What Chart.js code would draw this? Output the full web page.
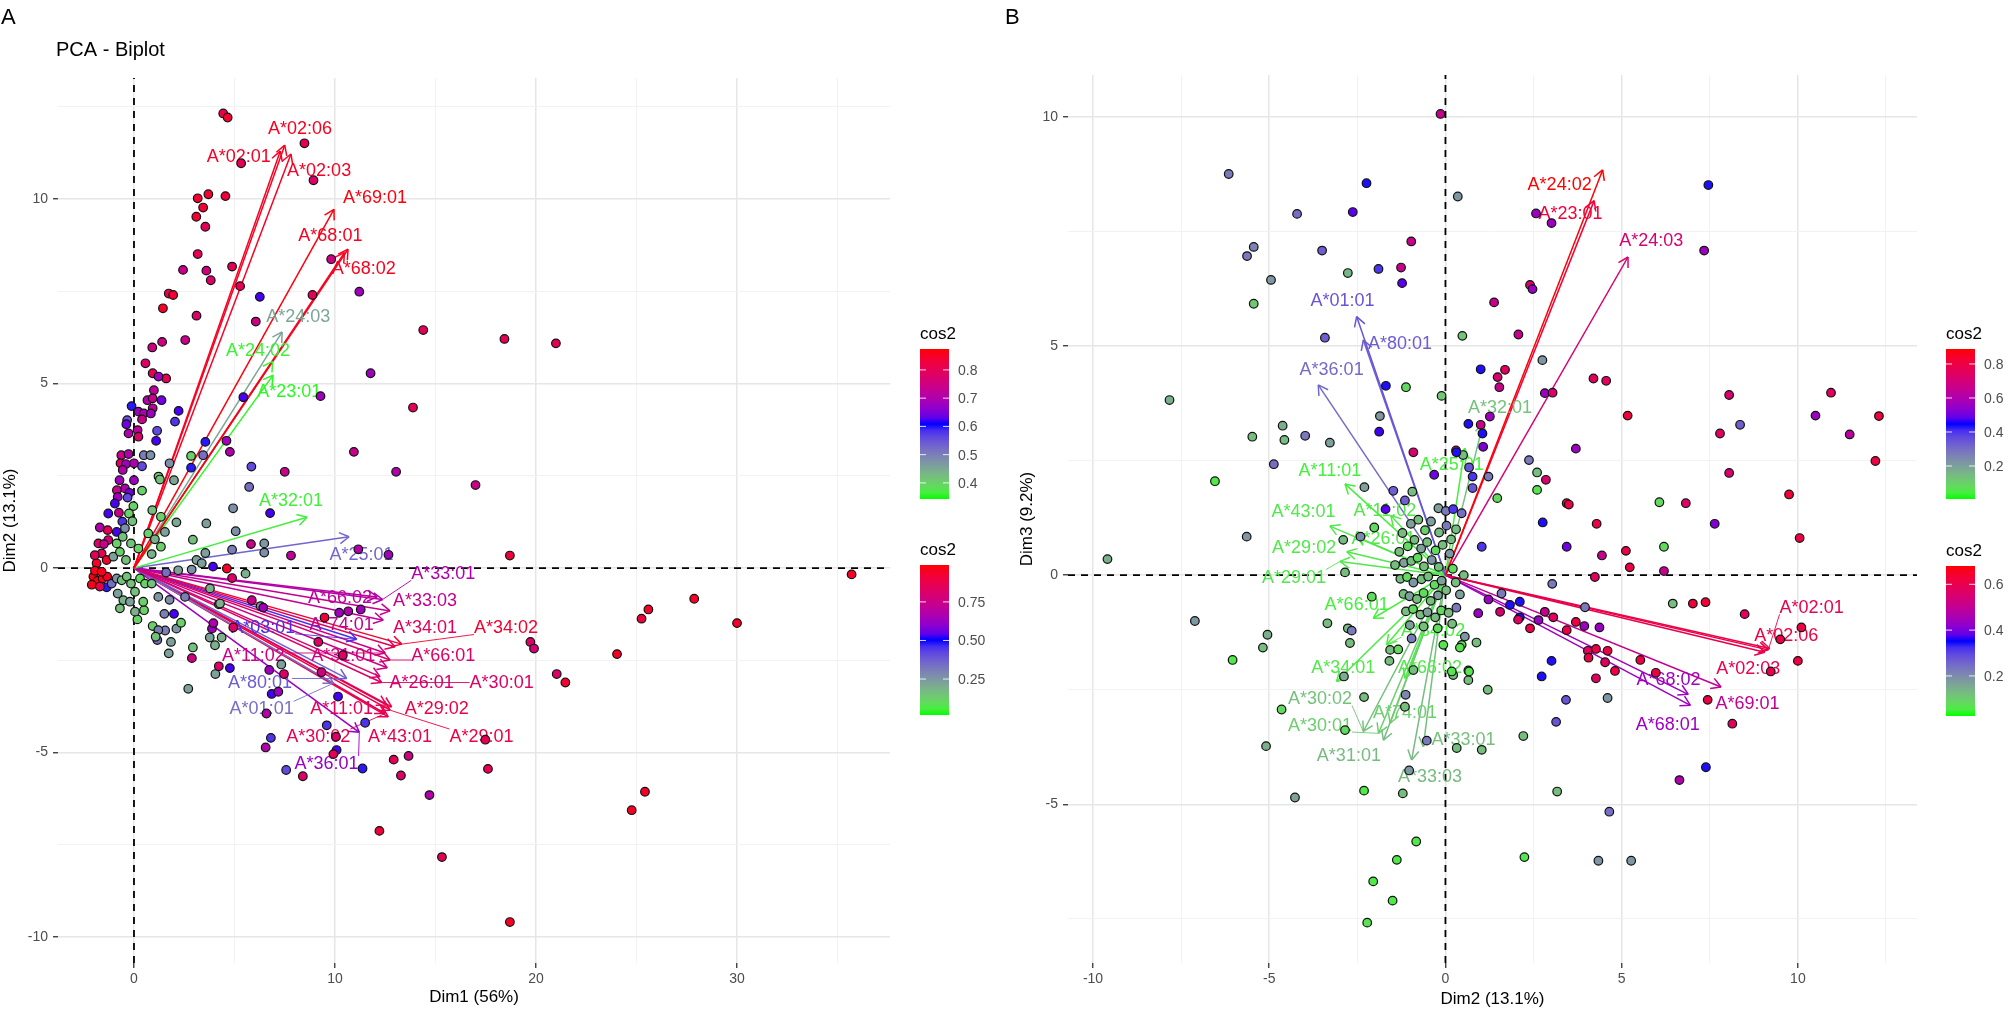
<!DOCTYPE html>
<html>
<head>
<meta charset="utf-8">
<title>PCA - Biplot</title>
<script src="https://cdn.jsdelivr.net/npm/chart.js@4.4.7/dist/chart.umd.min.js"></script>
<style>
  html, body { margin: 0; padding: 0; background: #fff; }
  #wrap { position: relative; width: 2009px; height: 1010px; overflow: hidden; }
  canvas { position: absolute; top: 0; }
  #chartA { left: 0; }
  #chartB { left: 1000px; }
</style>
</head>
<body>
<div id="wrap">
  <canvas id="chartA" width="1000" height="1010"></canvas>
  <canvas id="chartB" width="1009" height="1010"></canvas>
</div>
<script>
// ---- panel A: individuals [Dim1, Dim2, cos2] ----
var indA = [
  [4.44,12.32,0.82],[4.66,12.21,0.84],[8.48,11.51,0.80],[5.33,10.97,0.80],[8.93,10.51,0.78],
  [3.17,10.02,0.84],[3.70,10.13,0.84],[4.55,10.08,0.83],[3.44,9.77,0.84],[3.10,9.52,0.84],
  [3.55,9.25,0.80],[3.17,8.51,0.80],[2.44,8.08,0.74],[3.60,8.06,0.75],[3.82,7.80,0.78],
  [4.88,8.17,0.80],[9.81,8.37,0.75],[5.28,7.64,0.80],[1.73,7.44,0.80],[1.95,7.40,0.84],
  [6.26,7.35,0.62],[8.88,7.40,0.80],[11.21,7.49,0.68],[1.44,7.04,0.85],[3.11,6.84,0.78],
  [6.06,6.68,0.75],[14.39,6.45,0.80],[18.43,6.21,0.80],[20.99,6.09,0.80],[0.91,5.98,0.75],
  [1.40,6.13,0.75],[2.55,6.18,0.74],[0.57,5.55,0.78],[0.93,5.28,0.80],[1.60,5.14,0.80],
  [1.22,5.19,0.68],[0.99,4.82,0.72],[0.67,4.55,0.70],[0.93,4.60,0.74],[1.37,4.55,0.64],
  [-0.12,4.39,0.60],[0.22,4.24,0.68],[0.49,4.19,0.70],[0.93,4.33,0.72],[0.84,4.19,0.68],
  [-0.34,4.01,0.55],[0.40,4.03,0.74],[0.18,3.74,0.72],[-0.38,3.90,0.64],[2.22,4.26,0.62],
  [2.04,3.97,0.58],[1.15,3.72,0.56],[1.10,3.45,0.62],[-0.27,3.65,0.70],[0.22,3.56,0.78],
  [5.44,4.63,0.62],[9.28,4.66,0.68],[11.77,5.28,0.68],[13.88,4.35,0.80],[3.55,3.42,0.60],
  [4.60,3.45,0.68],[4.77,3.15,0.70],[10.94,3.15,0.74],[-0.63,3.06,0.74],[-0.27,3.09,0.70],
  [0.49,3.06,0.50],[0.82,3.06,0.48],[-0.67,2.84,0.78],[-0.40,2.82,0.68],[0.00,2.84,0.70],
  [0.40,2.76,0.56],[1.77,2.84,0.48],[2.84,3.04,0.40],[3.44,3.06,0.52],[2.84,2.72,0.60],
  [1.99,2.38,0.45],[1.22,2.48,0.40],[1.29,2.40,0.42],[5.84,2.75,0.56],[7.50,2.61,0.74],
  [13.04,2.61,0.70],[16.99,2.25,0.74],[5.73,2.20,0.52],[-0.56,2.66,0.70],[-0.72,2.38,0.68],
  [-0.45,2.16,0.70],[0.00,2.38,0.68],[0.40,2.10,0.40],[-0.85,2.11,0.74],[-0.23,2.04,0.64],
  [4.93,1.62,0.48],[6.77,1.49,0.62],[5.06,1.00,0.48],[3.60,1.21,0.46],[2.11,1.24,0.45],
  [2.93,0.77,0.42],[3.55,0.41,0.46],[3.11,0.22,0.46],[4.88,0.50,0.50],[5.82,0.65,0.74],
  [6.48,0.67,0.47],[6.48,0.42,0.48],[7.81,0.34,0.72],[12.66,0.36,0.68],[18.70,0.34,0.83],
  [3.93,0.04,0.62],[4.62,-0.01,0.85],[4.88,-0.27,0.78],[5.55,-0.15,0.44],[2.87,-0.04,0.48],
  [2.20,-0.06,0.46],[1.60,-0.12,0.52],[27.87,-0.83,0.85],[25.59,-1.12,0.85],[25.25,-1.37,0.83],
  [24.03,-2.33,0.85],[19.72,-2.00,0.78],[19.90,-2.18,0.76],[21.03,-2.87,0.78],[21.46,-3.10,0.84],
  [18.70,-9.59,0.85],[12.21,-7.12,0.83],[15.32,-7.83,0.80],[14.70,-6.15,0.70],[17.61,-5.44,0.80],
  [17.48,-4.65,0.80],[12.92,-5.19,0.80],[13.28,-5.62,0.78],[13.66,-5.09,0.75],[11.37,-5.43,0.60],
  [10.08,-4.93,0.62],[9.59,-4.26,0.58],[8.40,-5.64,0.78],[7.57,-5.47,0.56],[6.55,-4.86,0.70],
  [6.81,-4.60,0.58],[6.59,-3.94,0.70],[11.50,-4.19,0.58],[10.15,-3.48,0.62],[2.70,-3.27,0.46],
  [4.05,-2.87,0.46],[4.77,-2.71,0.62],[4.22,-2.66,0.78],[1.73,-2.31,0.46],[2.88,-2.44,0.75],
  [2.93,-2.15,0.42],[1.16,-1.95,0.52],[2.11,-1.64,0.47],[0.93,-1.57,0.40],[1.55,-1.69,0.50],
  [0.17,-1.39,0.40],[0.50,-1.14,0.40],[1.51,-1.24,0.50],[1.99,-1.24,0.62],[1.77,-0.86,0.48],
  [3.77,-1.88,0.46],[3.88,-1.64,0.68],[4.22,-0.98,0.50],[3.95,-1.49,0.70],[7.33,-2.61,0.46],
  [9.17,-2.00,0.78],[9.48,-1.34,0.83],[10.21,-1.21,0.68],[10.66,-1.17,0.70],[10.39,-2.36,0.78],
  [9.33,-2.82,0.75],[30.00,-1.49,0.85],[35.70,-0.17,0.85],
  [-0.81,1.93,0.68],[-0.32,1.91,0.56],[-0.03,1.68,0.40],[-0.95,1.75,0.62],[-1.28,1.48,0.62],
  [-0.75,1.50,0.74],[-0.25,1.48,0.40],[-0.58,1.26,0.58],[-0.08,1.27,0.42],[-1.31,1.03,0.80],
  [-0.86,0.98,0.62],[-0.45,1.08,0.48],[-1.77,0.67,0.78],[-1.28,0.76,0.76],[-0.86,0.67,0.40],
  [-0.56,0.85,0.42],[-0.15,0.67,0.42],[-1.61,0.40,0.80],[-1.36,0.22,0.85],[-1.86,0.13,0.85],
  [-1.03,0.31,0.46],[-0.70,0.44,0.40],[-0.40,0.22,0.42],[-2.02,-0.23,0.87],[-1.81,-0.34,0.87],
  [-1.56,-0.28,0.86],[-1.33,-0.23,0.85],[-1.94,-0.07,0.86],[-1.61,-0.10,0.86],[-1.36,-0.52,0.60],
  [-1.11,-0.42,0.52],[-0.86,-0.28,0.48],[-0.61,-0.33,0.42],[-0.36,-0.23,0.42],[-0.15,-0.42,0.42],
  [0.30,-0.28,0.38],[0.55,-0.42,0.40],[-0.81,-0.69,0.46],[-0.53,-0.87,0.44],[0.05,-0.64,0.42],
  [-0.20,-0.91,0.46],[0.46,-0.91,0.40],[-0.70,-1.09,0.42],[0.05,-1.18,0.44],[0.88,-0.42,0.42],
  [1.21,-0.78,0.47],[2.54,-0.78,0.50],[2.34,-1.48,0.40],[1.21,-1.68,0.50],[1.84,-2.00,0.46],
  [1.08,-1.86,0.42],[0.91,1.57,0.42],[1.34,1.39,0.40],[1.54,0.98,0.46],[0.71,0.94,0.40],
  [1.04,0.78,0.44],[1.34,0.58,0.40],[0.22,0.53,0.40],[0.88,0.38,0.44],[3.37,0.13,0.46],
  [-2.10,-0.45,0.86],[-1.70,-0.50,0.82],[-1.95,0.35,0.80],[-1.50,0.65,0.74],[-1.70,1.10,0.70],
  [11.16,0.51,0.70],[5.86,-0.87,0.74],[6.30,-1.03,0.47],[6.43,-1.07,0.68],[4.28,-0.96,0.44],
  [3.78,-0.55,0.44],[11.28,-1.12,0.68],[4.36,-1.88,0.44],[4.03,-2.09,0.44],[4.94,-1.61,0.78],
  [6.73,-2.76,0.68],[7.46,-2.87,0.78],[6.85,-3.41,0.62],[7.18,-3.35,0.68],[10.05,-4.57,0.78],
  [9.92,-5.04,0.80],[25.42,-6.06,0.85],[24.76,-6.56,0.85]
];

// ---- panel A: variables ----
var varA_names = ['A*02:06','A*02:01','A*02:03','A*69:01','A*68:01','A*68:02','A*24:03','A*24:02',
  'A*23:01','A*32:01','A*25:01','A*33:01','A*66:02','A*33:03','A*74:01','A*34:01','A*34:02',
  'A*03:01','A*66:01','A*11:02','A*31:01','A*26:01','A*30:01','A*80:01','A*01:01','A*11:01',
  'A*29:02','A*43:01','A*29:01','A*30:02','A*36:01'];
var varA_tip = [[7.50,11.46],[7.28,11.30],[7.81,11.22],[9.95,9.72],[10.65,8.64],[10.47,8.55],
  [7.37,6.40],[6.90,5.60],[6.92,5.23],[8.61,1.38],[10.70,0.85],[12.37,-0.85],[12.10,-0.78],
  [12.74,-1.16],[12.40,-1.41],[12.99,-2.13],[13.32,-2.06],[11.08,-1.93],[12.74,-2.49],
  [12.50,-2.30],[12.60,-2.70],[12.24,-2.94],[12.32,-3.10],[10.58,-2.99],[9.92,-3.12],
  [12.57,-3.71],[12.82,-3.76],[12.65,-4.03],[12.74,-3.85],[12.49,-3.94],[11.21,-4.45]];
var varA_labelAt = [[8.26,11.92],[5.21,11.17],[9.21,10.79],[11.99,10.05],[9.77,9.02],[11.43,8.12],
  [8.17,6.83],[6.17,5.91],[7.72,4.80],[7.81,1.85],[11.32,0.39],[15.39,-0.14],[10.25,-0.78],
  [14.48,-0.87],[10.33,-1.52],[14.48,-1.61],[18.51,-1.61],[6.43,-1.59],[15.39,-2.36],
  [5.94,-2.36],[10.41,-2.36],[14.31,-3.08],[18.29,-3.08],[6.27,-3.08],[6.35,-3.80],
  [10.33,-3.80],[15.06,-3.80],[13.23,-4.55],[17.29,-4.55],[9.17,-4.55],[9.58,-5.28]];
var varA_cos2 = [0.96,0.95,0.95,0.98,0.96,0.96,0.22,0.04,0.03,0.05,0.36,0.68,0.70,0.73,0.72,
  0.84,0.93,0.46,0.82,0.76,0.76,0.80,0.82,0.38,0.34,0.85,0.88,0.87,0.90,0.86,0.62];

// ---- panel B: individuals [Dim2, Dim3, cos2] ----
var indB = [
  [-0.14,10.06,0.66],[-6.15,8.75,0.28],[-2.24,8.55,0.44],[0.35,8.26,0.22],[-4.21,7.88,0.30],
  [-2.63,7.92,0.48],[-0.97,7.28,0.66],[-5.44,7.16,0.26],[-5.63,6.96,0.28],[-3.50,7.08,0.33],
  [-2.77,6.59,0.15],[-1.90,6.68,0.40],[-1.26,6.71,0.66],[-1.23,6.37,0.48],[-4.95,6.44,0.22],
  [-5.44,5.92,0.12],[1.38,5.95,0.66],[2.40,6.33,0.72],[2.47,6.24,0.56],[-3.42,5.18,0.33],
  [0.48,5.22,0.12],[2.07,5.25,0.66],[2.75,4.69,0.22],[1.00,4.49,0.44],[1.48,4.32,0.72],
  [1.69,4.48,0.75],[1.53,4.10,0.66],[2.82,3.97,0.56],[3.04,3.98,0.72],[-1.69,4.13,0.44],
  [-1.12,4.10,0.08],[-0.11,3.91,0.12],[-7.83,3.82,0.17],[-1.86,3.47,0.22],[-1.88,3.13,0.46],
  [-4.62,3.26,0.17],[-4.57,2.95,0.14],[-5.48,3.02,0.14],[-3.98,3.04,0.28],[-3.28,2.89,0.20],
  [0.65,3.30,0.44],[1.00,3.28,0.66],[1.26,3.46,0.56],[1.05,3.09,0.44],[1.07,2.80,0.52],
  [-0.91,2.68,0.72],[0.30,2.72,0.66],[0.50,2.62,0.14],[2.37,2.51,0.28],[2.60,2.24,0.14],
  [2.85,2.08,0.72],[2.60,1.86,0.06],[3.44,1.57,0.80],[1.47,1.68,0.08],[-4.87,2.42,0.30],
  [-6.54,2.05,0.05],[-0.32,2.19,0.50],[0.77,2.15,0.40],[1.22,2.15,0.28],[-2.30,1.92,0.20],
  [-1.48,1.84,0.33],[-1.15,1.63,0.33],[-1.70,1.44,0.48],[-0.94,1.82,0.14],[-0.20,1.46,0.20],
  [0.01,1.40,0.28],[0.22,1.44,0.40],[2.76,1.15,0.44],[1.03,0.62,0.40],[3.44,0.62,0.50],
  [-2.02,1.04,0.08],[-2.90,0.77,0.14],[-5.64,0.84,0.22],[-2.41,0.84,0.25],[-2.85,0.06,0.14],
  [3.03,-0.19,0.28],[0.52,0.00,0.14],[-7.11,-1.00,0.22],[-3.35,-1.05,0.14],[-2.77,-1.16,0.14],
  [-2.66,-1.21,0.28],[-2.09,-0.47,0.08],[-5.05,-1.30,0.17],[-5.18,-1.58,0.14],[-6.04,-1.85,0.05],
  [-2.71,-1.48,0.14],[-1.57,-1.63,0.14],[-1.59,-1.87,0.14],[-1.34,-1.62,0.08],[-0.96,-1.38,0.28],
  [-0.06,-1.52,0.06],[0.46,-1.52,0.08],[0.55,-1.34,0.22],[0.88,-1.47,0.14],[0.22,-2.18,0.14],
  [0.65,-2.08,0.08],[0.65,-2.29,0.14],[1.20,-2.50,0.14],[-0.91,-2.07,0.14],[-2.88,-2.21,0.17],
  [3.01,-1.87,0.44],[2.73,-2.21,0.44],[3.42,-2.72,0.35],[3.14,-3.20,0.35],[2.21,-3.51,0.14],
  [1.03,-3.81,0.14],[0.32,-3.77,0.14],[-0.53,-3.61,0.28],[-1.13,-2.61,0.25],[-1.15,-2.87,0.14],
  [-2.31,-2.66,0.14],[-4.65,-2.93,0.08],[-2.85,-3.38,0.08],[-5.09,-3.73,0.17],[-4.27,-4.85,0.20],
  [-2.31,-4.70,0.05],[-1.21,-4.76,0.14],[-1.03,-4.26,0.22],[3.17,-4.72,0.14],
  [1.22,-0.53,0.56],[1.59,-0.40,0.28],[1.83,-0.65,0.44],[2.11,-0.58,0.44],[1.55,-0.80,0.72],
  [2.11,-0.92,0.44],[2.40,-1.16,0.80],[2.64,-0.98,0.56],[2.82,-0.80,0.66],[3.06,-0.92,0.75],
  [3.44,-1.20,0.80],[0.93,-0.83,0.56],
  [7.46,8.51,0.44],[2.57,7.89,0.56],[3.01,7.68,0.56],[7.34,7.08,0.56],[4.20,4.29,0.75],
  [4.56,4.24,0.75],[5.17,3.48,0.82],[8.05,3.93,0.72],[10.94,3.98,0.75],[10.50,3.48,0.56],
  [12.30,3.47,0.82],[11.47,3.07,0.62],[12.20,2.49,0.80],[7.79,3.09,0.75],[8.36,3.28,0.33],
  [8.05,2.23,0.72],[3.70,2.76,0.56],[3.50,1.54,0.80],[6.07,1.59,0.08],[6.82,1.57,0.74],
  [9.75,1.76,0.82],[4.29,1.12,0.80],[7.64,1.12,0.52],[10.05,0.81,0.80],[4.44,0.43,0.66],
  [5.12,0.53,0.80],[6.20,0.62,0.08],[5.23,0.17,0.80],[6.20,0.09,0.66],[4.24,-0.04,0.75],
  [6.45,-0.62,0.14],[7.02,-0.62,0.82],[7.38,-0.59,0.82],[8.49,-0.85,0.75],[10.10,-1.14,0.80],
  [9.50,-1.40,0.80],[10.00,-1.87,0.80],[9.23,-2.10,0.78],[7.44,-2.72,0.80],[8.14,-3.24,0.75],
  [7.39,-4.19,0.44],[6.64,-4.47,0.60],[2.06,-0.97,0.75],[3.70,-1.02,0.80],[3.94,-1.11,0.56],
  [3.96,-0.70,0.28],[4.37,-1.14,0.56],[4.04,-1.65,0.75],[4.06,-1.80,0.80],[4.27,-1.61,0.80],
  [4.60,-1.65,0.80],[4.53,-1.90,0.75],[4.81,-2.09,0.80],[5.53,-1.85,0.80],[5.97,-2.13,0.80],
  [4.27,-2.25,0.75],[4.60,-2.68,0.22],[0.41,-1.58,0.06],[0.18,-2.10,0.06],[0.67,-2.10,0.06],
  [0.31,2.68,0.44],[0.67,2.35,0.35],[0.77,1.90,0.35],[0.46,1.35,0.30],[0.30,1.00,0.14],
  [4.65,-5.16,0.30],[-0.83,-5.81,0.05],[-1.38,-6.21,0.05],[2.24,-6.15,0.06],[4.34,-6.23,0.22],
  [5.27,-6.23,0.22],[-2.05,-6.68,0.05],[-1.50,-7.10,0.05],[-2.22,-7.58,0.06],[-9.59,0.35,0.17],
  [-1.22,0.92,0.14],[-0.98,1.12,0.20],[-0.77,1.21,0.14],[-0.58,0.98,0.10],[-0.41,1.17,0.20],
  [-0.18,0.93,0.14],[0.03,1.08,0.28],[0.16,0.78,0.14],[-1.31,0.51,0.14],[-1.07,0.63,0.08],
  [-0.88,0.77,0.14],[-0.69,0.58,0.20],[-0.52,0.72,0.14],[-0.28,0.54,0.08],[-0.08,0.66,0.14],
  [0.12,0.47,0.22],[-1.43,0.22,0.14],[-1.18,0.27,0.20],[-0.97,0.31,0.14],[-0.79,0.38,0.08],
  [-0.61,0.19,0.14],[-0.39,0.33,0.22],[-0.19,0.18,0.14],[0.21,0.14,0.08],[-1.28,-0.08,0.14],
  [-1.09,-0.04,0.08],[-0.91,-0.16,0.22],[-0.68,-0.09,0.14],[-0.49,-0.03,0.14],[-0.31,-0.21,0.08],
  [-0.11,-0.12,0.20],[0.29,-0.16,0.14],[-1.19,-0.41,0.14],[-1.02,-0.46,0.20],[-0.81,-0.52,0.14],
  [-0.62,-0.39,0.08],[-0.42,-0.56,0.14],[-0.21,-0.44,0.20],[0.02,-0.33,0.14],[0.41,-0.42,0.20],
  [-1.12,-0.79,0.14],[-0.92,-0.74,0.08],[-0.71,-0.86,0.14],[-0.51,-0.81,0.20],[-0.29,-0.92,0.14],
  [-0.12,-0.77,0.08],[0.09,-0.82,0.14],[0.31,-0.71,0.28],[-0.62,-1.12,0.14],[-0.22,-1.16,0.08],
  [0.19,-1.06,0.14],[-1.01,-1.09,0.20]
];

// ---- panel B: variables ----
var varB_names = ['A*24:02','A*23:01','A*24:03','A*01:01','A*80:01','A*36:01','A*32:01','A*25:01',
  'A*11:01','A*11:02','A*43:01','A*26:01','A*29:02','A*29:01','A*66:01','A*34:02','A*34:01',
  'A*66:02','A*30:02','A*74:01','A*30:01','A*31:01','A*33:03','A*33:01','A*02:01','A*02:06',
  'A*02:03','A*69:01','A*68:02','A*68:01'];
var varB_tip = [[4.46,8.84],[4.22,8.17],[5.18,6.94],[-2.52,5.64],[-2.33,5.13],[-3.61,4.15],
  [1.07,3.31],[0.55,2.77],[-2.85,1.99],[-1.55,1.30],[-3.28,1.07],[-2.52,0.84],[-2.80,0.51],
  [-2.99,0.30],[-2.05,-0.94],[-1.67,-1.52],[-3.09,-2.32],[-1.15,-2.25],[-2.33,-3.41],
  [-1.57,-3.23],[-1.90,-3.45],[-1.76,-3.60],[-0.96,-4.03],[-0.63,-3.74],[9.16,-1.63],
  [9.20,-1.60],[9.06,-1.68],[7.82,-2.44],[6.89,-2.60],[6.95,-2.84]];
var varB_labelAt = [[3.24,8.53],[3.55,7.89],[5.84,7.30],[-2.92,6.00],[-1.29,5.07],[-3.23,4.49],
  [1.55,3.66],[0.18,2.42],[-3.28,2.29],[-1.72,1.42],[-4.03,1.39],[-1.76,0.80],[-4.01,0.62],
  [-4.30,-0.03],[-2.52,-0.63],[-0.35,-1.20],[-2.90,-2.00],[-0.44,-2.00],[-3.56,-2.69],
  [-1.15,-2.98],[-3.56,-3.27],[-2.74,-3.92],[-0.44,-4.39],[0.51,-3.58],[10.39,-0.70],
  [9.67,-1.30],[8.59,-2.03],[8.57,-2.79],[6.33,-2.27],[6.31,-3.24]];
var varB_cos2 = [0.68,0.63,0.55,0.28,0.27,0.25,0.12,0.05,0.05,0.06,0.06,0.06,0.06,0.06,0.05,
  0.05,0.06,0.06,0.12,0.10,0.10,0.13,0.13,0.12,0.60,0.62,0.60,0.50,0.44,0.44];

// ---- colour-bar legends: value range, ticks and tick labels ----
var legA_ind = { range: [0.343, 0.874], ticks: [0.4, 0.5, 0.6, 0.7, 0.8], labels: ['0.4', '0.5', '0.6', '0.7', '0.8'] };
var legA_var = { range: [0.017, 0.989], ticks: [0.25, 0.5, 0.75], labels: ['0.25', '0.50', '0.75'] };
var legB_ind = { range: [0.006, 0.888], ticks: [0.2, 0.4, 0.6, 0.8], labels: ['0.2', '0.4', '0.6', '0.8'] };
var legB_var = { range: [0.025, 0.68], ticks: [0.2, 0.4, 0.6], labels: ['0.2', '0.4', '0.6'] };

// ---- axis ticks ----
var xTicksA = [0, 10, 20, 30], xTickLabelsA = ['0', '10', '20', '30'], xMinorA = [5, 15, 25, 35];
var yTicksA = [-10, -5, 0, 5, 10], yTickLabelsA = ['-10', '-5', '0', '5', '10'], yMinorA = [-7.5, -2.5, 2.5, 7.5, 12.5];
var xTicksB = [-10, -5, 0, 5, 10], xTickLabelsB = ['-10', '-5', '0', '5', '10'], xMinorB = [-7.5, -2.5, 2.5, 7.5, 12.5];
var yTicksB = [-5, 0, 5, 10], yTickLabelsB = ['-5', '0', '5', '10'], yMinorB = [-7.5, -2.5, 2.5, 7.5];

var FONT = "'Liberation Sans', Arial, Helvetica, sans-serif";
Chart.defaults.font.family = FONT;

// green -> blue -> red, interpolated in CIELAB like ggplot's gradientn
var RAMP = [[0, 255, 0], [0, 0, 255], [255, 0, 0]];

function srgbToLin(c) { c = c / 255; return c <= 0.04045 ? c / 12.92 : Math.pow((c + 0.055) / 1.055, 2.4); }
function linToSrgb(c) {
  var v = c <= 0.0031308 ? 12.92 * c : 1.055 * Math.pow(Math.max(c, 0), 1 / 2.4) - 0.055;
  return Math.round(Math.min(1, Math.max(0, v)) * 255);
}
function rgbToLab(rgb) {
  var r = srgbToLin(rgb[0]), g = srgbToLin(rgb[1]), b = srgbToLin(rgb[2]);
  var X = (0.4124 * r + 0.3576 * g + 0.1805 * b) / 0.95047;
  var Y = 0.2126 * r + 0.7152 * g + 0.0722 * b;
  var Z = (0.0193 * r + 0.1192 * g + 0.9505 * b) / 1.08883;
  function f(t) { return t > 0.008856 ? Math.cbrt(t) : 7.787 * t + 16 / 116; }
  var fx = f(X), fy = f(Y), fz = f(Z);
  return [116 * fy - 16, 500 * (fx - fy), 200 * (fy - fz)];
}
function labToCss(lab) {
  var fy = (lab[0] + 16) / 116, fx = fy + lab[1] / 500, fz = fy - lab[2] / 200;
  function finv(t) { return t > 0.206893 ? t * t * t : (t - 16 / 116) / 7.787; }
  var X = 0.95047 * finv(fx), Y = finv(fy), Z = 1.08883 * finv(fz);
  var r = 3.2406 * X - 1.5372 * Y - 0.4986 * Z;
  var g = -0.9689 * X + 1.8758 * Y + 0.0415 * Z;
  var b = 0.0557 * X - 0.2040 * Y + 1.0570 * Z;
  return 'rgb(' + linToSrgb(r) + ',' + linToSrgb(g) + ',' + linToSrgb(b) + ')';
}
var RAMP_LAB = RAMP.map(rgbToLab);
function rampColor(t) {
  t = Math.max(0, Math.min(1, t));
  var a, b, u;
  if (t < 0.5) { a = RAMP_LAB[0]; b = RAMP_LAB[1]; u = t * 2; }
  else { a = RAMP_LAB[1]; b = RAMP_LAB[2]; u = (t - 0.5) * 2; }
  return labToCss([a[0] + (b[0] - a[0]) * u, a[1] + (b[1] - a[1]) * u, a[2] + (b[2] - a[2]) * u]);
}
function norm(v, range) { return (v - range[0]) / (range[1] - range[0]); }

function axisOpts(range, major, minor, labels, title, size, isX, titlePad) {
  var all = major.concat(minor).sort(function (a, b) { return a - b; });
  function isMajor(c) { return c.tick && major.indexOf(c.tick.value) >= 0; }
  return {
    type: 'linear',
    min: range[0],
    max: range[1],
    afterBuildTicks: function (s) { s.ticks = all.map(function (v) { return { value: v }; }); },
    afterFit: function (s) { if (isX) s.height = size; else s.width = size; },
    grid: {
      color: function (c) { return isMajor(c) ? '#e6e6e6' : '#f2f2f2'; },
      lineWidth: function (c) { return isMajor(c) ? 1.5 : 1; },
      drawTicks: true,
      tickLength: 5,
      tickWidth: 1.3,
      tickColor: function (c) { return isMajor(c) ? '#333333' : 'rgba(0,0,0,0)'; },
    },
    border: { display: false },
    ticks: {
      autoSkip: false,
      maxRotation: 0,
      color: '#4d4d4d',
      font: { size: 14 },
      padding: isX ? 3 : 5,
      callback: function (v) { var k = major.indexOf(v); return k < 0 ? '' : labels[k]; },
    },
    title: {
      display: true,
      text: title,
      color: '#000',
      font: { size: 17 },
      padding: { top: 0, bottom: titlePad },
    },
  };
}

function drawColorbar(ctx, leg, x, top, titleBase) {
  var w = 29, h = 150;
  ctx.save();
  ctx.fillStyle = '#000';
  ctx.font = '17px ' + FONT;
  ctx.textAlign = 'left';
  ctx.textBaseline = 'alphabetic';
  ctx.fillText('cos2', x, titleBase);
  var g = ctx.createLinearGradient(0, top + h, 0, top);
  for (var k = 0; k <= 24; k++) g.addColorStop(k / 24, rampColor(k / 24));
  ctx.fillStyle = g;
  ctx.fillRect(x, top, w, h);
  ctx.font = '14px ' + FONT;
  ctx.textBaseline = 'middle';
  leg.ticks.forEach(function (v, j) {
    var y = top + h - norm(v, leg.range) * h;
    ctx.strokeStyle = 'rgba(255,255,255,0.85)';
    ctx.lineWidth = 1;
    ctx.beginPath();
    ctx.moveTo(x, y); ctx.lineTo(x + 6, y);
    ctx.moveTo(x + w - 6, y); ctx.lineTo(x + w, y);
    ctx.stroke();
    ctx.fillStyle = '#4d4d4d';
    ctx.fillText(leg.labels[j], x + w + 9, y + 1);
  });
  ctx.restore();
}

function buildPanel(p) {
  var indColors = p.ind.map(function (d) { return rampColor(norm(d[2], p.legInd.range)); });
  var varColors = p.varCos2.map(function (c) { return rampColor(norm(c, p.legVar.range)); });
  var datasets = [];
  var dashed = { showLine: true, borderColor: '#000', borderWidth: 1.8, borderDash: [7, 6], pointRadius: 0, order: 100, role: 'axis' };
  datasets.push(Object.assign({ data: [{ x: p.xRange[0], y: 0 }, { x: p.xRange[1], y: 0 }] }, dashed));
  datasets.push(Object.assign({ data: [{ x: 0, y: p.yRange[0] }, { x: 0, y: p.yRange[1] }] }, dashed));
  p.varTip.forEach(function (t, i) {
    datasets.push({
      role: 'var', data: [{ x: 0, y: 0 }, { x: t[0], y: t[1] }], showLine: true,
      borderColor: varColors[i], borderWidth: 1.5, pointRadius: 0, order: 50,
    });
  });
  datasets.push({
    role: 'ind',
    data: p.ind.map(function (d) { return { x: d[0], y: d[1] }; }),
    backgroundColor: indColors,
    borderColor: '#111',
    borderWidth: 1.2,
    pointRadius: 4.3,
    order: 0,
  });

  var extras = {
    id: 'extras' + p.id,
    beforeDatasetDraw: function (chart, args) {
      if (chart.data.datasets[args.index].role !== 'ind') return;
      var ctx = chart.ctx, xs = chart.scales.x, ys = chart.scales.y;
      var ox = xs.getPixelForValue(0), oy = ys.getPixelForValue(0);
      ctx.save();
      // arrow heads
      p.varTip.forEach(function (t, i) {
        var tx = xs.getPixelForValue(t[0]), ty = ys.getPixelForValue(t[1]);
        var ang = Math.atan2(ty - oy, tx - ox);
        ctx.strokeStyle = varColors[i];
        ctx.lineWidth = 1.5;
        ctx.beginPath();
        [-1, 1].forEach(function (s) {
          ctx.moveTo(tx, ty);
          ctx.lineTo(tx - 11 * Math.cos(ang + s * Math.PI / 6), ty - 11 * Math.sin(ang + s * Math.PI / 6));
        });
        ctx.stroke();
      });
      // labels with repel-style leader segments
      ctx.font = '18px ' + FONT;
      ctx.textAlign = 'center';
      ctx.textBaseline = 'middle';
      p.varNames.forEach(function (name, i) {
        var tx = xs.getPixelForValue(p.varTip[i][0]), ty = ys.getPixelForValue(p.varTip[i][1]);
        var lx = xs.getPixelForValue(p.varLabelAt[i][0]), ly = ys.getPixelForValue(p.varLabelAt[i][1]);
        var w = ctx.measureText(name).width, h = 14;
        var cx = Math.max(lx - w / 2, Math.min(tx, lx + w / 2));
        var cy = Math.max(ly - h / 2, Math.min(ty, ly + h / 2));
        if (Math.hypot(cx - tx, cy - ty) > 15) {
          ctx.strokeStyle = varColors[i];
          ctx.lineWidth = 0.9;
          ctx.beginPath();
          ctx.moveTo(tx, ty);
          ctx.lineTo(cx, cy);
          ctx.stroke();
        }
        ctx.fillStyle = varColors[i];
        ctx.fillText(name, lx, ly + 1);
      });
      ctx.restore();
    },
    afterDraw: function (chart) {
      var ctx = chart.ctx;
      ctx.save();
      ctx.fillStyle = '#000';
      ctx.textAlign = 'left';
      ctx.textBaseline = 'alphabetic';
      ctx.font = '22px ' + FONT;
      ctx.fillText(p.letter, p.letterX, 24);
      if (p.title) {
        ctx.font = '20px ' + FONT;
        ctx.fillText(p.title, 56, 56);
      }
      ctx.restore();
      drawColorbar(ctx, p.legInd, p.barX, 349, 339);
      drawColorbar(ctx, p.legVar, p.barX, p.barTop2, p.barTop2 - 10);
    },
  };

  return new Chart(document.getElementById(p.canvas), {
    type: 'scatter',
    data: { datasets: datasets },
    options: {
      responsive: false,
      animation: false,
      events: [],
      devicePixelRatio: 1,
      layout: { padding: p.padding },
      plugins: { legend: { display: false }, tooltip: { enabled: false } },
      scales: {
        x: axisOpts(p.xRange, p.xTicks, p.xMinor, p.xTickLabels, p.xTitle, p.xHeight, true, p.xTitlePad),
        y: axisOpts(p.yRange, p.yTicks, p.yMinor, p.yTickLabels, p.yTitle, p.yWidth, false, 0),
      },
    },
    plugins: [extras],
  });
}

buildPanel({
  id: 'A', canvas: 'chartA', letter: 'A', letterX: 1, title: 'PCA - Biplot',
  ind: indA, varNames: varA_names, varTip: varA_tip, varLabelAt: varA_labelAt, varCos2: varA_cos2,
  legInd: legA_ind, legVar: legA_var, barX: 920, barTop2: 565,
  xRange: [-3.78, 37.61], yRange: [-10.70, 13.28],
  xTicks: xTicksA, xTickLabels: xTickLabelsA, xMinor: xMinorA,
  yTicks: yTicksA, yTickLabels: yTickLabelsA, yMinor: yMinorA,
  xTitle: 'Dim1 (56%)', yTitle: 'Dim2 (13.1%)',
  padding: { left: 0, right: 110, top: 78, bottom: 0 }, yWidth: 58, xHeight: 47, xTitlePad: 2,
});

buildPanel({
  id: 'B', canvas: 'chartB', letter: 'B', letterX: 5, title: null,
  ind: indB, varNames: varB_names, varTip: varB_tip, varLabelAt: varB_labelAt, varCos2: varB_cos2,
  legInd: legB_ind, legVar: legB_var, barX: 946, barTop2: 566,
  xRange: [-10.71, 13.38], yRange: [-8.46, 10.91],
  xTicks: xTicksB, xTickLabels: xTickLabelsB, xMinor: xMinorB,
  yTicks: yTicksB, yTickLabels: yTickLabelsB, yMinor: yMinorB,
  xTitle: 'Dim2 (13.1%)', yTitle: 'Dim3 (9.2%)',
  padding: { left: 17, right: 92, top: 75, bottom: 0 }, yWidth: 51, xHeight: 47, xTitlePad: 0,
});
</script>
</body>
</html>
